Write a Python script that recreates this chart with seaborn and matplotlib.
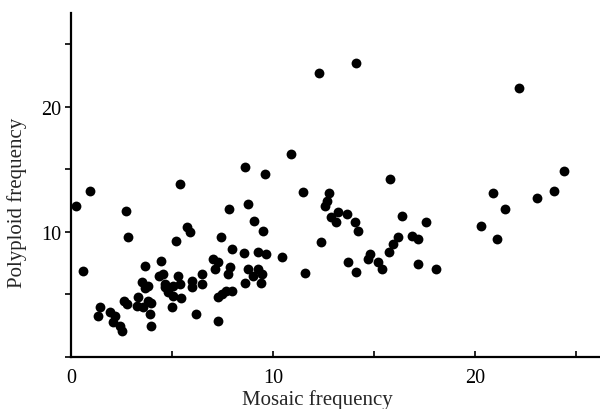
import matplotlib
matplotlib.use("Agg")
import matplotlib.pyplot as plt
import seaborn as sns
import pandas as pd
from matplotlib.ticker import MultipleLocator

mosaic = [0.25, 0.94, 0.6, 2.7, 2.84, 5.4, 5.2, 5.75, 5.9, 8.6, 9.6, 10.9,
          7.84, 8.78, 9.07, 9.52, 7.43, 7.95, 8.56, 9.24, 9.65, 10.46, 7.05, 7.29,
          7.87, 8.78, 9.27, 7.13, 6.47, 7.76, 9.0, 9.44, 8.6, 9.4, 6.47, 5.97,
          5.97, 5.45, 7.3, 7.46, 7.7, 7.96, 6.19, 7.3, 3.66, 4.46, 4.37, 4.57,
          5.31, 3.5, 3.83, 3.66, 4.65, 4.65, 5.06, 5.4, 4.82, 5.06, 3.33, 3.83,
          4.98, 2.64, 2.76, 3.25, 3.58, 3.96, 3.92, 3.96, 1.44, 1.35, 1.93, 2.18,
          2.06, 2.43, 2.54,
          12.3, 14.1, 22.2, 24.4, 23.9, 23.1, 20.9, 21.5, 20.3, 21.1, 15.8, 11.5,
          12.8, 12.7, 12.6, 13.2, 12.9, 13.1, 13.65, 14.06, 14.2, 16.4, 17.56, 12.4,
          16.2, 15.96, 15.76, 16.87, 17.2, 14.8, 14.7, 15.2, 15.4, 13.7, 14.1, 11.6,
          17.2, 18.1]
polyploid = [12.1, 13.3, 6.9, 11.7, 9.6, 13.8, 9.3, 10.4, 10.0, 15.2, 14.6, 16.2,
             11.8, 12.2, 10.9, 10.1, 9.6, 8.6, 8.3, 8.4, 8.2, 8.0, 7.8, 7.6,
             7.2, 7.0, 7.0, 7.0, 6.6, 6.6, 6.5, 6.6, 5.9, 5.9, 5.8, 6.1,
             5.6, 4.7, 4.8, 5.0, 5.3, 5.3, 3.4, 2.9, 7.3, 7.7, 6.5, 6.6,
             6.5, 6.0, 5.7, 5.5, 5.8, 5.6, 5.7, 5.8, 5.2, 4.9, 4.8, 4.5,
             4.0, 4.5, 4.2, 4.05, 4.0, 4.3, 3.4, 2.5, 4.0, 3.3, 3.6, 3.3,
             2.8, 2.5, 2.1,
             22.7, 23.5, 21.5, 14.9, 13.3, 12.7, 13.1, 11.8, 10.5, 9.4, 14.2, 13.2,
             13.1, 12.5, 12.1, 11.6, 11.2, 10.8, 11.4, 10.8, 10.1, 11.3, 10.8, 9.2,
             9.6, 9.0, 8.4, 9.7, 9.4, 8.2, 7.8, 7.6, 7.0, 7.6, 6.8, 6.7,
             7.4, 7.0]

x_ticks = [0, 10, 20]
y_ticks = [10, 20]
x_label = "Mosaic frequency"
y_label = "Polyploid frequency"

df = pd.DataFrame({"mosaic": mosaic, "polyploid": polyploid})

sns.set_style("ticks")
plt.rcParams["font.family"] = ["Liberation Serif", "DejaVu Serif"]

fig = plt.figure(figsize=(6.0, 4.1), dpi=100)
ax = fig.add_axes([71 / 600, 52 / 410, 529 / 600, 344 / 410])

sns.scatterplot(data=df, x="mosaic", y="polyploid", ax=ax, color="black",
                s=50, edgecolor="black", linewidth=0, clip_on=False, zorder=3)

ax.set_xlim(0, 26.2)
ax.set_ylim(0, 27.5)
ax.set_xticks(x_ticks)
ax.set_yticks(y_ticks)
ax.xaxis.set_minor_locator(MultipleLocator(5))
ax.yaxis.set_minor_locator(MultipleLocator(5))
ax.tick_params(axis="x", which="both", direction="in", length=4, width=1.2,
               labelsize=14.5, pad=8, colors="black")
ax.tick_params(axis="y", which="both", direction="out", length=4, width=1.2,
               labelsize=14.5, pad=3, colors="black")

for side in ["top", "right"]:
    ax.spines[side].set_visible(False)
for side in ["left", "bottom"]:
    ax.spines[side].set_linewidth(1.6)
    ax.spines[side].set_color("black")

ax.set_xlabel(x_label, fontsize=15)
ax.set_ylabel(y_label, fontsize=15)
ax.xaxis.set_label_coords(0.465, -0.094)
ax.yaxis.set_label_coords(-0.083, 0.45)

fig.savefig("out.png", dpi=100)
